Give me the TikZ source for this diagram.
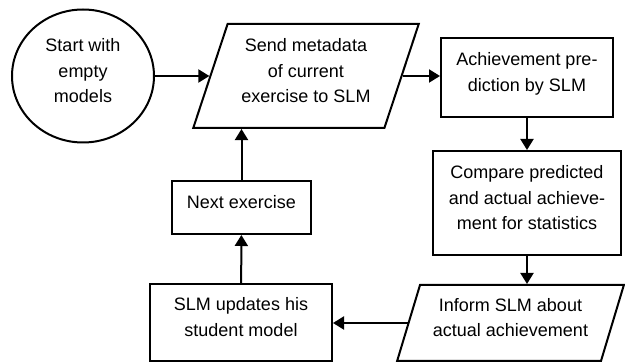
\documentclass[tikz,border=0pt]{standalone}
\usepackage{fontspec}
\setmainfont{Liberation Sans}
\usepackage{tikz}
\usetikzlibrary{shapes.geometric,arrows.meta}

\begin{document}
\begin{tikzpicture}[x=1pt,y=-1pt,
	every node/.style={font=\fontsize{18}{25.5}\selectfont,align=center,line width=2pt,
		execute at end node={\rule[-11pt]{0pt}{11pt}}},
	box/.style={draw,rectangle},
	io/.style={draw,trapezium,trapezium left angle=70,trapezium right angle=110,trapezium stretches=true},
	flow/.style={line width=2pt,-{Triangle[length=11pt,width=13pt]}}]
	\useasboundingbox (0,0) rectangle (625,363);
	
	%NODES
	\node[draw,ellipse,minimum width=142,minimum height=133] (start) at (83,76) {Start with\\empty\\models};
	\node[io,minimum width=226,minimum height=104] (send) at (306,76) {Send metadata\\of current\\exercise to SLM};
	\node[box,minimum width=172,minimum height=79] (predict) at (527,77.5) {Achievement pre-\\diction by SLM};
	\node[box,minimum width=188,minimum height=104] (compare) at (527,203) {Compare predicted\\and actual achieve-\\ment for statistics};
	\node[io,minimum width=227,minimum height=76] (inform) at (510.5,323) {Inform SLM about\\actual achievement};
	\node[box,minimum width=182,minimum height=77] (update) at (241,322.5) {SLM updates his\\student model};
	\node[box,minimum width=139,minimum height=53] (next) at (241.5,207.5) {Next exercise};
	
	%ARROWS
	\draw[flow] (start.east) -- (send.west |- start.east);
	\draw[flow] (send.east) -- (predict.west |- send.east);
	\draw[flow] (predict) -- (compare);
	\draw[flow] (compare.south) -- (compare.south |- inform.north);
	\draw[flow] (inform.west) -- (update.east |- inform.west);
	\draw[flow] (update) -- (next);
	\draw[flow] (next.north) -- (next.north |- send.south);
\end{tikzpicture}
\end{document}
